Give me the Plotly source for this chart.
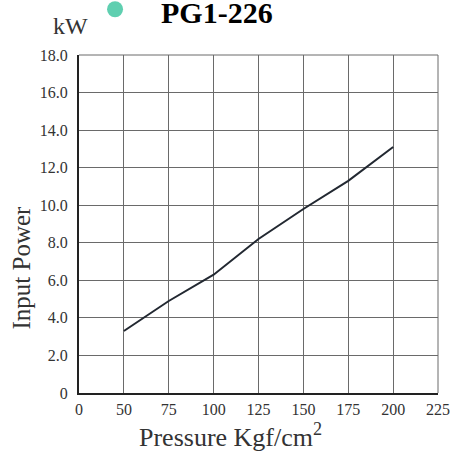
import plotly.graph_objects as go

# pressure steps on the x axis (drawn evenly spaced, like the original sheet)
pressure_ticks = ["0", "50", "75", "100", "125", "150", "175", "200", "225"]
pressure = ["50", "75", "100", "125", "150", "175", "200"]
input_power = [3.3, 4.9, 6.3, 8.2, 9.8, 11.3, 13.1]

power_ticks = [0, 2, 4, 6, 8, 10, 12, 14, 16, 18]
power_labels = ["0", "2.0", "4.0", "6.0", "8.0", "10.0", "12.0", "14.0", "16.0", "18.0"]

serif = "Liberation Serif, Times New Roman, serif"
grid = "#6a6a6a"
tickfont = dict(family=serif, size=16, color="#333333")

fig = go.Figure()
fig.add_trace(go.Scatter(
    x=pressure, y=input_power, mode="lines",
    line=dict(color="#222831", width=2),
    showlegend=False, hoverinfo="x+y",
))


def label(text, x, y, size, color="#333333", angle=0):
    return dict(text=text, xref="paper", yref="paper", x=x, y=y,
                xanchor="center", yanchor="middle", textangle=angle,
                showarrow=False, font=dict(family=serif, size=size, color=color))


fig.update_layout(
    width=451, height=452,
    margin=dict(l=79, r=13, t=55, b=59),
    paper_bgcolor="white", plot_bgcolor="white",
    font=dict(family=serif, color="#333333", size=16),
    xaxis=dict(
        type="category", categoryorder="array", categoryarray=pressure_ticks,
        range=[0, 8], showgrid=True, gridcolor=grid, gridwidth=1,
        showline=True, linecolor="#222222", linewidth=2,
        ticks="outside", ticklen=1, tickcolor="rgba(0,0,0,0)",
        tickfont=tickfont, zeroline=False, automargin=False,
    ),
    yaxis=dict(
        range=[0, 18], tickvals=power_ticks, ticktext=power_labels,
        showgrid=True, gridcolor=grid, gridwidth=1,
        showline=True, linecolor="#222222", linewidth=2,
        ticks="outside", ticklen=6, tickcolor="rgba(0,0,0,0)",
        tickfont=tickfont, zeroline=False, automargin=False,
    ),
    shapes=[
        # thin frame on top and right
        dict(type="line", xref="paper", yref="paper", x0=0, x1=1, y0=1, y1=1,
             line=dict(color=grid, width=1)),
        dict(type="line", xref="paper", yref="paper", x0=1, x1=1, y0=0, y1=1,
             line=dict(color=grid, width=1)),
        # green dot next to the model name
        dict(type="circle", xref="paper", yref="paper",
             xsizemode="pixel", ysizemode="pixel", xanchor=0.1004, yanchor=1.1353,
             x0=-8, x1=8, y0=-8, y1=8,
             fillcolor="#5fcfb0", line=dict(width=0)),
    ],
    annotations=[
        label("kW", -0.025, 1.085, 24),
        label("<b>PG1-226</b>", 0.385, 1.127, 30, color="#000000"),
        label("Input Power", -0.159, 0.371, 25, angle=-90),
        label("Pressure Kgf/cm<sup>2</sup>", 0.423, -0.127, 26),
    ],
)

# drop the browser's default page margin so the figure sits at the corner
fig.write_html("out.html", config={"displayModeBar": False},
               post_script="document.body.style.margin = '0';")
